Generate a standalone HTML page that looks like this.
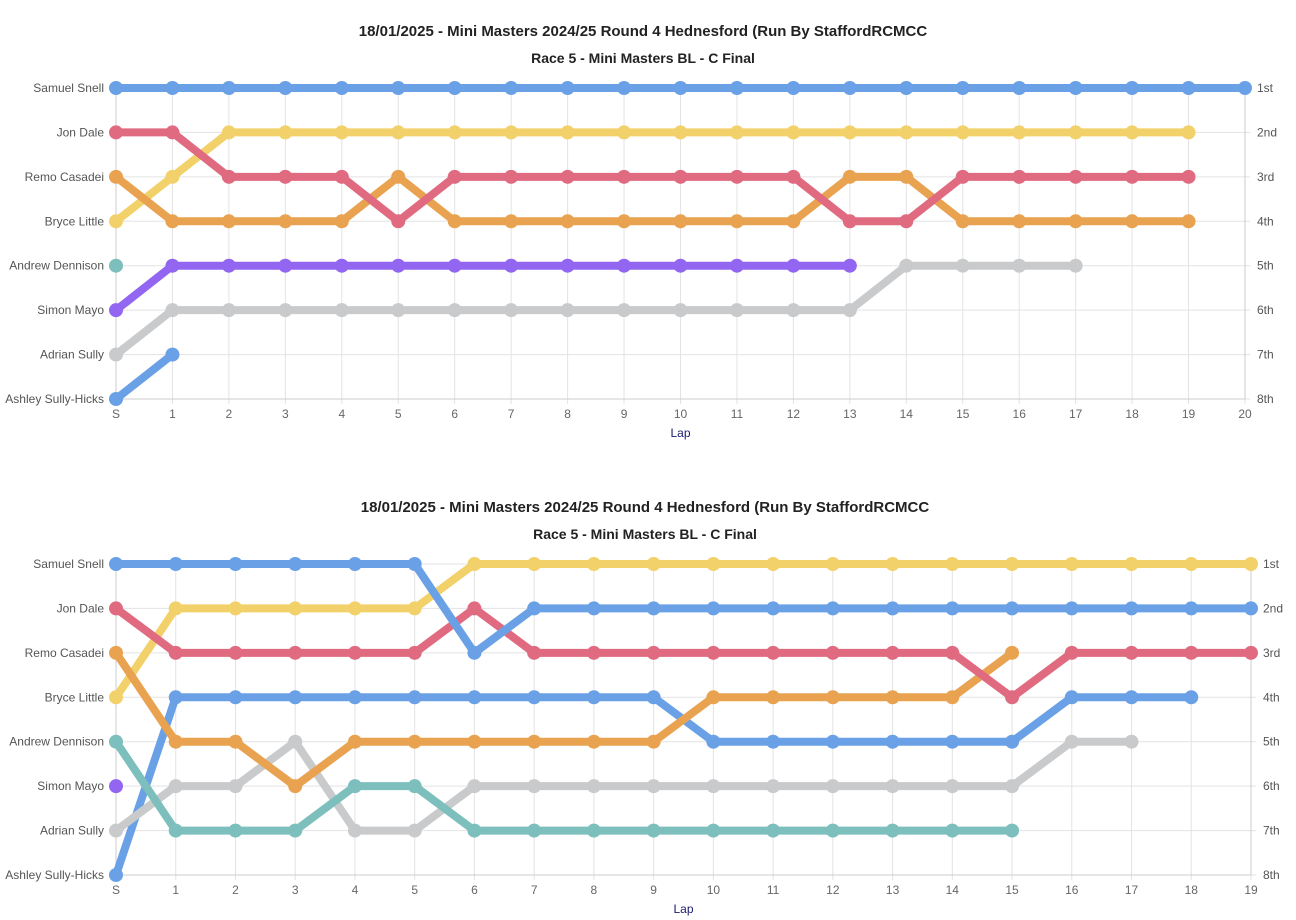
<!DOCTYPE html>
<html><head><meta charset="utf-8">
<style>
body{margin:0;background:#fff;width:1296px;height:920px;overflow:hidden;font-family:"Liberation Sans",sans-serif;}
svg{display:block}
</style></head>
<body>
<svg id="svg" width="1296" height="920"></svg>
<script>
const drivers = ["Samuel Snell","Jon Dale","Remo Casadei","Bryce Little","Andrew Dennison","Simon Mayo","Adrian Sully","Ashley Sully-Hicks"];
const posLabels = ["1st","2nd","3rd","4th","5th","6th","7th","8th"];
const colors = {blue:"#6aa0e6",red:"#e06b80",yellow:"#f2d16b",orange:"#e9a350",purple:"#9366f2",teal:"#7cbfbd",gray:"#c9cacc"};
// chart 1 series (positions from S onward)
const c1Snell = [1,1,1,1,1,1,1,1,1,1,1,1,1,1,1,1,1,1,1,1,1];
const c1Dale = [2,2,3,3,3,4,3,3,3,3,3,3,3,4,4,3,3,3,3,3];
const c1Little = [4,3,2,2,2,2,2,2,2,2,2,2,2,2,2,2,2,2,2,2];
const c1Casadei = [3,4,4,4,4,3,4,4,4,4,4,4,4,3,3,4,4,4,4,4];
const c1Dennison = [5];
const c1Mayo = [6,5,5,5,5,5,5,5,5,5,5,5,5,5];
const c1Sully = [7,6,6,6,6,6,6,6,6,6,6,6,6,6,5,5,5,5];
const c1Hicks = [8,7];
// chart 2 series
const c2Snell = [1,1,1,1,1,1,3,2,2,2,2,2,2,2,2,2,2,2,2,2];
const c2Little = [4,2,2,2,2,2,1,1,1,1,1,1,1,1,1,1,1,1,1,1];
const c2Dale = [2,3,3,3,3,3,2,3,3,3,3,3,3,3,3,4,3,3,3,3];
const c2Casadei = [3,5,5,6,5,5,5,5,5,5,4,4,4,4,4,3];
const c2Hicks = [8,4,4,4,4,4,4,4,4,4,5,5,5,5,5,5,4,4,4];
const c2Dennison = [5,7,7,7,6,6,7,7,7,7,7,7,7,7,7,7];
const c2Sully = [7,6,6,5,7,7,6,6,6,6,6,6,6,6,6,6,5,5];
const c2Mayo = [6];

const NS="http://www.w3.org/2000/svg";
const svg=document.getElementById('svg');
function mk(tag,attrs,parent,name,inter){const e=document.createElementNS(NS,tag);for(const k in attrs)e.setAttribute(k,attrs[k]);


(parent||svg).appendChild(e);return e;}

function chart(top,laps,series,prefix,tcx){
  const g=mk('g',{},svg,prefix,false);
  const L=116,R=laps===20?1245:1251,T=top+88,B=top+399;
  const xs=i=>L+(R-L)*i/laps, ys=p=>T+(B-T)*(p-1)/7;
  let t=mk('text',{x:tcx,y:top+36,'text-anchor':'middle','font-size':15,'font-weight':'bold',fill:'#222'},g,prefix+'-title',false);
  t.textContent="18/01/2025 - Mini Masters 2024/25 Round 4 Hednesford (Run By StaffordRCMCC";
  t=mk('text',{x:tcx,y:top+63,'text-anchor':'middle','font-size':14,'font-weight':'bold',fill:'#222'},g,prefix+'-subtitle',false);
  t.textContent="Race 5 - Mini Masters BL - C Final";
  for(let i=0;i<=laps;i++){
    mk('line',{x1:xs(i),x2:xs(i),y1:T,y2:B+5,stroke:'#e3e3e3','stroke-width':1},g,prefix+'-vgrid',false);
    const tx=mk('text',{x:xs(i),y:B+19,'text-anchor':'middle','font-size':12,fill:'#666'},g,prefix+'-x-tick',false);
    tx.textContent=i===0?'S':String(i);
  }
  for(let p=1;p<=8;p++){
    mk('line',{x1:L-5,x2:R+5,y1:ys(p),y2:ys(p),stroke:'#e3e3e3','stroke-width':1},g,prefix+'-hgrid',false);
    let a=mk('text',{x:L-12,y:ys(p)+4,'text-anchor':'end','font-size':12,fill:'#555'},g,prefix+'-y-label',false);a.textContent=drivers[p-1];
    a=mk('text',{x:R+12,y:ys(p)+4,'font-size':12,fill:'#555'},g,prefix+'-y2-label',false);a.textContent=posLabels[p-1];
  }
  mk('line',{x1:L,x2:L,y1:T,y2:B,stroke:'#ccc'},g,prefix+'-y-axis',false);
  mk('line',{x1:R,x2:R,y1:T,y2:B,stroke:'#ccc'},g,prefix+'-y2-axis',false);
  mk('line',{x1:L,x2:R,y1:B,y2:B,stroke:'#ccc'},g,prefix+'-x-axis',false);
  const lt=mk('text',{x:(L+R)/2,y:B+38,'text-anchor':'middle','font-size':12,fill:'#1a1a6e'},g,prefix+'-x-title',false);lt.textContent='Lap';
  for(let s=series.length-1;s>=0;s--){
    const [name,vals,col]=series[s];
    const pts=vals.map((v,i)=>xs(i)+','+ys(v)).join(' ');
    if(vals.length>1)mk('polyline',{points:pts,fill:'none',stroke:col,'stroke-width':8,'stroke-linejoin':'round'},g,prefix+'-line-'+name,false);
    vals.forEach((v,i)=>mk('circle',{cx:xs(i),cy:ys(v),r:7,fill:col},g,prefix+'-point-'+name,true));
  }
}
chart(0,20,[["snell",c1Snell,colors.blue],["dale",c1Dale,colors.red],["casadei",c1Casadei,colors.orange],["little",c1Little,colors.yellow],["dennison",c1Dennison,colors.teal],["mayo",c1Mayo,colors.purple],["sully",c1Sully,colors.gray],["hicks",c1Hicks,colors.blue]],'chart-1',643);
chart(476,19,[["snell",c2Snell,colors.blue],["dale",c2Dale,colors.red],["casadei",c2Casadei,colors.orange],["little",c2Little,colors.yellow],["dennison",c2Dennison,colors.teal],["mayo",c2Mayo,colors.purple],["sully",c2Sully,colors.gray],["hicks",c2Hicks,colors.blue]],'chart-2',645);
</script>
</body></html>
